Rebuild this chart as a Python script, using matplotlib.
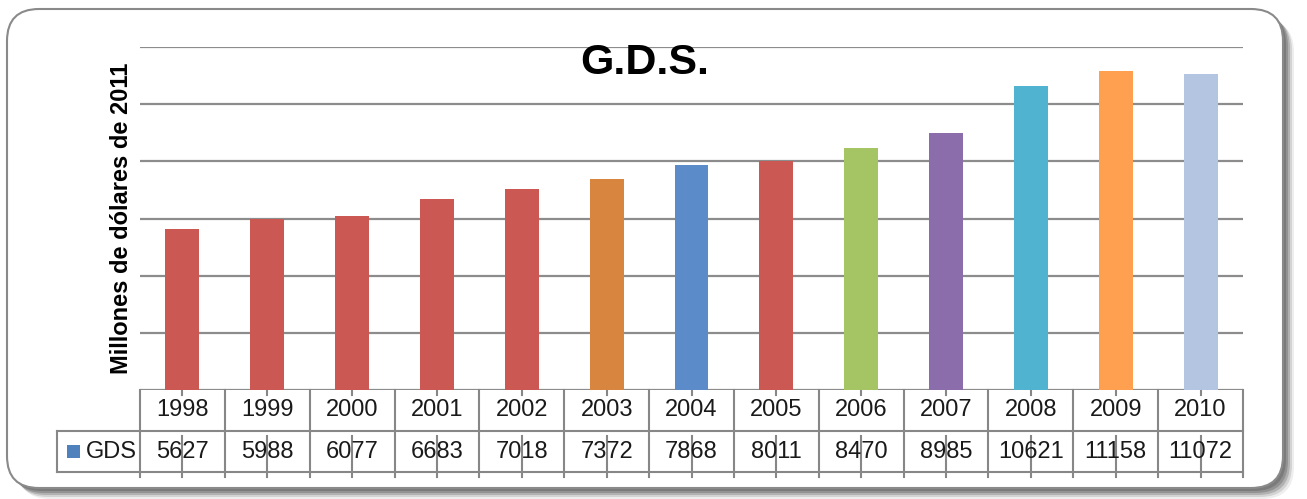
import matplotlib.pyplot as plt
from matplotlib.patches import FancyBboxPatch, Rectangle
from matplotlib.transforms import IdentityTransform

years = ['1998', '1999', '2000', '2001', '2002', '2003', '2004',
         '2005', '2006', '2007', '2008', '2009', '2010']
gds = [5627, 5988, 6077, 6683, 7018, 7372, 7868, 8011, 8470, 8985,
       10621, 11158, 11072]
bar_colors = ['#CB5853', '#CB5853', '#CB5853', '#CB5853', '#CB5853',
              '#D8863F', '#5B8BC8', '#CB5853', '#A5C464', '#8A6DAA',
              '#50B4D0', '#FFA050', '#B4C5E2']

W, H = 1307, 499
fig = plt.figure(figsize=(W / 100, H / 100), dpi=100)

# frame with shadow (pixel coords, y from bottom)
for off, a in [(11, 0.10), (9, 0.18), (7, 0.28), (5, 0.35), (3, 0.4)]:
    fig.add_artist(FancyBboxPatch((7 + off, H - 488 - off), 1276, 479,
                                  boxstyle="round,pad=0,rounding_size=32",
                                  transform=IdentityTransform(),
                                  facecolor='#5a5a5a', edgecolor='none',
                                  alpha=a, zorder=0))
fig.add_artist(FancyBboxPatch((7, H - 488), 1276, 479,
                              boxstyle="round,pad=0,rounding_size=32",
                              transform=IdentityTransform(),
                              facecolor='white', edgecolor='#8a8a8a',
                              linewidth=1.5, zorder=1))

ax_l, ax_r, ax_b, ax_t = 140, 1243, 390, 47
ax = fig.add_axes([ax_l / W, 1 - ax_b / H, (ax_r - ax_l) / W, (ax_b - ax_t) / H])
ax.set_zorder(2)
ax.patch.set_visible(False)

x = range(len(years))
ax.bar(x, gds, width=0.4, color=bar_colors, zorder=3)
ax.set_xlim(-0.5, 12.5)
ax.set_ylim(0, 12000)
ax.set_yticks(range(0, 12001, 2000))
ax.yaxis.grid(True, color='#8c8c8c', linewidth=1.6)
ax.set_axisbelow(True)
ax.tick_params(left=False, bottom=False, labelleft=False, labelbottom=False)
for s in ax.spines.values():
    s.set_visible(False)

ax.text((645 - ax_l) / (ax_r - ax_l), (ax_b - 63) / (ax_b - ax_t), 'G.D.S.',
        transform=ax.transAxes, ha='center', va='center', fontsize=31,
        fontweight='bold', family='Liberation Sans', zorder=5)
ax.text((122 - ax_l) / (ax_r - ax_l), 0.5, 'Millones de dólares de 2011',
        transform=ax.transAxes, ha='center', va='center', rotation=90,
        fontsize=17, fontweight='bold', family='Liberation Sans')

# data table below the axes
hpx = ax_b - ax_t
rh = 41 / hpx
grid_c = '#878787'
xt = ax.get_xaxis_transform()
lk = dict(color=grid_c, linewidth=1.5, clip_on=False)
leg_x = (57 - ax_l) / (ax_r - ax_l)
ax.plot([-0.5, 12.5], [-rh, -rh], transform=xt, **lk)
ax.plot([-0.5, 12.5], [-2 * rh, -2 * rh], transform=xt, **lk)
ax.plot([leg_x, 0], [-rh, -rh], transform=ax.transAxes, **lk)
ax.plot([leg_x, 0], [-2 * rh, -2 * rh], transform=ax.transAxes, **lk)
ax.plot([leg_x, leg_x], [-rh, -2 * rh], transform=ax.transAxes, **lk)
ext = 5 / hpx
for i in range(len(years) + 1):
    ax.plot([i - 0.5, i - 0.5], [0, -2 * rh - ext], transform=xt, **lk)
for i in range(len(years)):
    ax.plot([i, i], [0, -ext], transform=xt, **lk)
    ax.plot([i, i], [-rh - ext, -2 * rh - ext], transform=xt, **lk)
    ax.text(i, -rh / 2, years[i], transform=xt, ha='center', va='center',
            fontsize=17, family='Liberation Sans', color='#1a1a1a')
    ax.text(i, -1.5 * rh, str(gds[i]), transform=xt, ha='center',
            va='center', fontsize=17, family='Liberation Sans', color='#1a1a1a')

ax.add_patch(Rectangle(((67 - ax_l) / (ax_r - ax_l), -1.5 * rh - 6.5 / hpx),
                       13 / (ax_r - ax_l), 13 / hpx, transform=ax.transAxes,
                       facecolor='#4F81BD', edgecolor='none', clip_on=False))
ax.text((86 - ax_l) / (ax_r - ax_l), -1.5 * rh, 'GDS', transform=ax.transAxes,
        ha='left', va='center', fontsize=17, family='Liberation Sans',
        color='#1a1a1a')

fig.savefig('out.png', dpi=100)
